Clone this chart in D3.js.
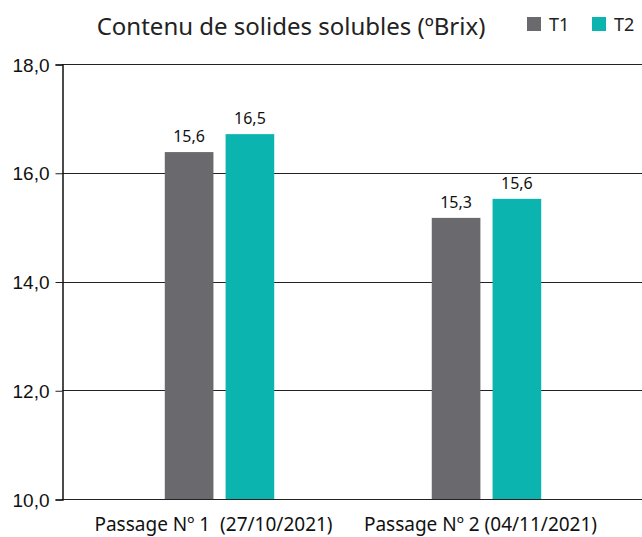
<!DOCTYPE html>
<html>
<head>
<meta charset="utf-8">
<script src="https://cdn.jsdelivr.net/npm/d3@7"></script>
<style>
  body { margin: 0; background: #fff; }
  svg { display: block; font-family: "Noto Sans", sans-serif; }
</style>
</head>
<body>
<svg id="chart"></svg>
<script>
// chart data
const passages = ["Passage Nº 1  (27/10/2021)", "Passage Nº 2 (04/11/2021)"];
const series = ["T1", "T2"];
const t1Values = [16.38, 15.17];
const t2Values = [16.71, 15.52];
const t1Labels = ["15,6", "15,3"];
const t2Labels = ["16,5", "15,6"];
const yTicks = [10, 12, 14, 16, 18];
const colors = ["#69696e", "#0bb4ae"];

const width = 642;
const height = 537;
const margin = { top: 64, right: -2, bottom: 38, left: 62 };

const svg = d3.select("#chart")
              .attr("width", width)
              .attr("height", height);

const x0 = d3.scaleBand()
             .domain(passages)
             .range([margin.left, width - margin.right])
             .paddingInner(0.59)
             .paddingOuter(0.385);

const x1 = d3.scaleBand()
             .domain(series)
             .range([0, x0.bandwidth()])
             .paddingInner(0.2);

const y = d3.scaleLinear()
            .domain([10, 18])
            .range([height - margin.bottom, margin.top]);

// gridlines
svg.append("g")
   .selectAll("line")
   .data(yTicks)
   .enter().append("line")
   .attr("x1", margin.left)
   .attr("x2", width)
   .attr("y1", d => Math.round(y(d)) + 0.5)
   .attr("y2", d => Math.round(y(d)) + 0.5)
   .attr("stroke", "#222")
   .attr("stroke-width", 1);

// y axis
const yAxis = svg.append("g")
                 .attr("transform", `translate(${margin.left + 0.5},0.5)`)
                 .call(d3.axisLeft(y)
                         .tickValues(yTicks)
                         .tickSize(7)
                         .tickPadding(6)
                         .tickFormat(d => d3.format(".1f")(d).replace(".", ",")));
yAxis.select(".domain").attr("stroke", "#111").attr("stroke-width", 1.5);
yAxis.selectAll(".tick line").attr("stroke", "#222");
yAxis.selectAll(".tick text")
     .attr("font-size", 19)
     .attr("fill", "#111")
     .attr("dy", "0.35em");

// bars
const rows = passages.map((p, i) => ({
  passage: p,
  items: [
    { key: "T1", value: t1Values[i], label: t1Labels[i] },
    { key: "T2", value: t2Values[i], label: t2Labels[i] }
  ]
}));

const groups = svg.append("g")
                  .selectAll("g")
                  .data(rows)
                  .enter().append("g")
                  .attr("transform", d => `translate(${x0(d.passage)},0)`);

groups.selectAll("rect")
      .data(d => d.items)
      .enter().append("rect")
      .attr("x", d => x1(d.key))
      .attr("width", x1.bandwidth())
      .attr("y", d => y(d.value))
      .attr("height", d => y(10) - y(d.value))
      .attr("fill", (d, i) => colors[i]);

groups.selectAll("text")
      .data(d => d.items)
      .enter().append("text")
      .attr("x", d => x1(d.key) + x1.bandwidth() / 2)
      .attr("y", d => y(d.value) - 10)
      .attr("text-anchor", "middle")
      .attr("font-size", 16)
      .attr("fill", "#111")
      .text(d => d.label);

// x labels
svg.append("g")
   .selectAll("text")
   .data(passages)
   .enter().append("text")
   .attr("x", d => x0(d) + x0.bandwidth() / 2 - 6)
   .attr("y", height - 6)
   .attr("text-anchor", "middle")
   .attr("font-size", 19)
   .attr("fill", "#111")
   .attr("xml:space", "preserve")
   .text(d => d);

// title
svg.append("text")
   .attr("x", 291)
   .attr("y", 35)
   .attr("text-anchor", "middle")
   .attr("font-size", 24)
   .attr("fill", "#222")
   .text("Contenu de solides solubles (ºBrix)");

// legend
const legend = svg.append("g")
                  .selectAll("g")
                  .data(series)
                  .enter().append("g")
                  .attr("transform", (d, i) => `translate(${527 + i * 65},17)`);
legend.append("rect")
      .attr("width", 14)
      .attr("height", 14)
      .attr("fill", (d, i) => colors[i]);
legend.append("text")
      .attr("x", 22)
      .attr("y", 14)
      .attr("font-size", 18)
      .attr("fill", "#222")
      .text(d => d);
</script>
</body>
</html>
